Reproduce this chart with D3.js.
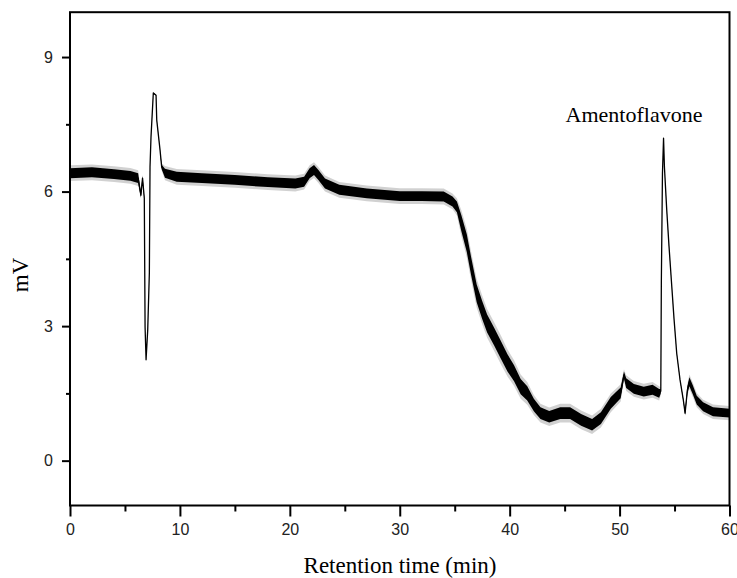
<!DOCTYPE html>
<html>
<head>
<meta charset="utf-8">
<script src="https://cdn.jsdelivr.net/npm/d3@7"></script>
<style>
  body { margin: 0; background: #fff; }
  svg { display: block; }
</style>
</head>
<body>
<svg id="canvas" width="737" height="578"></svg>
<script>
// retention time (min)
let time = [0, 2, 4, 5.5, 6.2, 6.45, 6.6, 6.76, 6.83, 6.92, 7.07, 7.22, 7.28, 7.37, 7.58, 7.83, 7.89, 8.19, 8.34, 8.64,
  9.71, 12, 15, 18, 20.5, 21.3, 21.8, 22.2, 22.6, 23.2, 24.5, 27, 30, 32, 34, 34.8, 35.2, 35.6, 36.1, 36.5,
  37.0, 37.5, 37.95, 38.6, 39.2, 39.8, 40.4, 41.0, 41.6, 42.2, 42.8, 43.6, 44.6, 45.5, 46.5, 47.5, 48.3, 49.2, 50.1, 50.4,
  50.6, 51.3, 52.2, 53.0, 53.6, 53.75, 53.8, 53.9, 54.0, 54.08, 54.29, 54.5, 54.75, 54.96, 55.2, 55.5, 55.8, 55.96, 56.17, 56.35,
  56.66, 57.02, 57.6, 58.5, 60];

// detector signal (mV)
let signal = [6.41, 6.43, 6.39, 6.35, 6.3, 5.92, 6.3, 5.85, 2.98, 2.25, 2.91, 4.19, 6.55, 7.22, 8.2, 8.15, 7.6, 6.93, 6.55, 6.41,
  6.33, 6.3, 6.26, 6.21, 6.18, 6.22, 6.41, 6.48, 6.37, 6.18, 6.04, 5.96, 5.9, 5.9, 5.89, 5.78, 5.66, 5.3, 4.85, 4.33,
  3.73, 3.36, 3.06, 2.76, 2.47, 2.18, 1.95, 1.65, 1.5, 1.24, 1.06, 0.98, 1.06, 1.06, 0.91, 0.8, 0.95, 1.29, 1.51, 1.91,
  1.73, 1.6, 1.54, 1.58, 1.5, 1.55, 4.0, 6.4, 7.19, 6.55, 5.59, 4.77, 3.88, 3.14, 2.39, 1.8, 1.35, 1.06, 1.58, 1.76,
  1.58, 1.35, 1.2, 1.09, 1.06];

// half width of the baseline noise band (mV)
let noise = [0.11, 0.11, 0.11, 0.11, 0.11, 0.05, 0.05, 0.02, 0.01, 0.01, 0.01, 0.01, 0.01, 0.01, 0.01, 0.01, 0.01, 0.01, 0.05, 0.1,
  0.11, 0.11, 0.11, 0.11, 0.11, 0.11, 0.11, 0.11, 0.11, 0.11, 0.11, 0.11, 0.11, 0.11, 0.11, 0.11, 0.12, 0.18, 0.2, 0.2,
  0.2, 0.2, 0.2, 0.2, 0.2, 0.19, 0.18, 0.17, 0.16, 0.14, 0.13, 0.13, 0.13, 0.13, 0.13, 0.13, 0.13, 0.13, 0.12, 0.08,
  0.11, 0.11, 0.11, 0.11, 0.1, 0.05, 0.01, 0.01, 0.01, 0.01, 0.01, 0.01, 0.01, 0.01, 0.01, 0.01, 0.02, 0.04, 0.08, 0.1,
  0.1, 0.1, 0.1, 0.1, 0.1];

let xMajor = [0, 10, 20, 30, 40, 50, 60];
let xMinor = [5, 15, 25, 35, 45, 55];
let yMajor = [0, 3, 6, 9];
let yMinor = [1.5, 4.5, 7.5];

let peakLabel = "Amentoflavone";

let canvas = d3.select("#canvas");

let x = d3.scaleLinear().domain([0, 60]).range([70, 729.5]);
let y = d3.scaleLinear().domain([-1, 10]).range([505.5, 12.2]);

let points = time.map((t, i) => ({t: t, v: signal[i], n: noise[i]}));

// faint noise fringe, core band, then the trace itself
canvas.append("path")
      .datum(points)
      .attr("fill", "#000")
      .attr("fill-opacity", 0.18)
      .attr("d", d3.area().x(d => x(d.t)).y0(d => y(d.v - d.n * 1.6)).y1(d => y(d.v + d.n * 1.6)));

canvas.append("path")
      .datum(points)
      .attr("fill", "#000")
      .attr("d", d3.area().x(d => x(d.t)).y0(d => y(d.v - d.n)).y1(d => y(d.v + d.n)));

canvas.append("path")
      .datum(points)
      .attr("fill", "none")
      .attr("stroke", "#000")
      .attr("stroke-width", 1.3)
      .attr("stroke-linejoin", "round")
      .attr("d", d3.line().x(d => x(d.t)).y(d => y(d.v)));

// axes
let xAxis = canvas.append("g")
      .attr("transform", "translate(0,505.5)")
      .call(d3.axisBottom(x).tickValues(xMajor).tickSize(11).tickPadding(7).tickFormat(d3.format("d")));
let xAxisMinor = canvas.append("g")
      .attr("transform", "translate(0,505.5)")
      .call(d3.axisBottom(x).tickValues(xMinor).tickSize(6).tickFormat(""));
let yAxis = canvas.append("g")
      .attr("transform", "translate(70,0)")
      .call(d3.axisLeft(y).tickValues(yMajor).tickSize(8).tickPadding(9).tickFormat(d3.format("d")));
let yAxisMinor = canvas.append("g")
      .attr("transform", "translate(70,0)")
      .call(d3.axisLeft(y).tickValues(yMinor).tickSize(4).tickFormat(""));

[xAxis, xAxisMinor, yAxis, yAxisMinor].forEach(g => {
  g.select(".domain").remove();
  g.selectAll("line").attr("stroke", "#000").attr("stroke-width", 2);
  g.selectAll("text")
   .attr("font-family", "'Liberation Sans', Arial, sans-serif")
   .attr("font-size", 16)
   .attr("fill", "#222");
});

// frame
canvas.append("rect")
      .attr("x", x(0))
      .attr("y", y(10))
      .attr("width", x(60) - x(0))
      .attr("height", y(-1) - y(10))
      .attr("fill", "none")
      .attr("stroke", "#000")
      .attr("stroke-width", 2);

// titles
canvas.append("text")
      .attr("x", 400)
      .attr("y", 573)
      .attr("text-anchor", "middle")
      .attr("font-family", "'Liberation Serif', 'Times New Roman', serif")
      .attr("font-size", 23)
      .text("Retention time (min)");

canvas.append("text")
      .attr("transform", "translate(28,275) rotate(-90)")
      .attr("text-anchor", "middle")
      .attr("font-family", "'Liberation Serif', 'Times New Roman', serif")
      .attr("font-size", 23)
      .text("mV");

canvas.append("text")
      .attr("x", 634)
      .attr("y", 122)
      .attr("text-anchor", "middle")
      .attr("font-family", "'Liberation Serif', 'Times New Roman', serif")
      .attr("font-size", 22)
      .text(peakLabel);
</script>
</body>
</html>
